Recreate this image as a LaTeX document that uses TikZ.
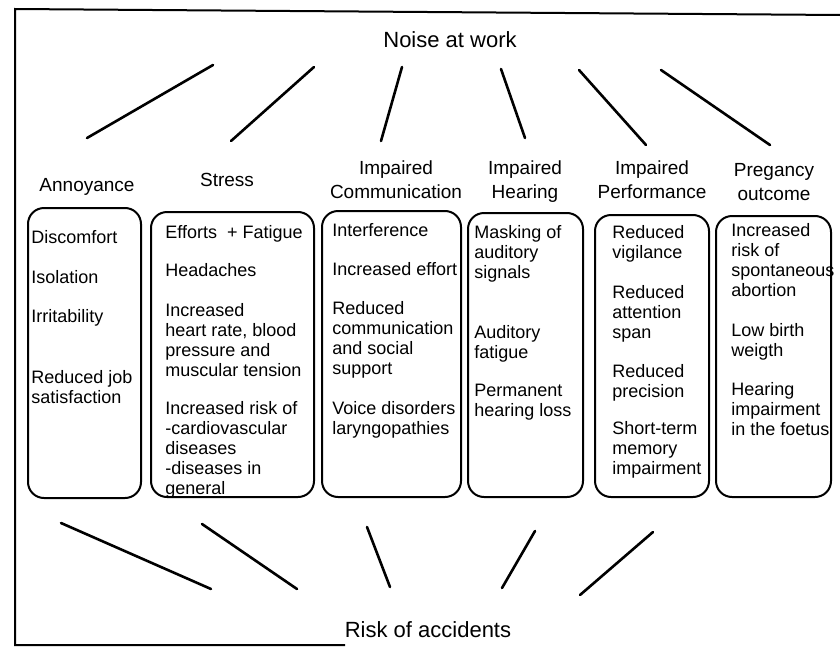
\documentclass[tikz,border=0pt]{standalone}
\usepackage{fontspec}
\setmainfont{Liberation Sans}
\tikzset{
  frame/.style={line width=1pt},
  stroke/.style={line width=1.3pt, line cap=round},
  box/.style={draw, line width=1pt, rounded corners=8pt, inner sep=0pt},
  item/.style={anchor=base west, inner sep=0pt, font=\fontsize{9}{10}\selectfont},
  head/.style={anchor=base, inner sep=0pt, font=\fontsize{9.5}{12}\selectfont},
  title/.style={anchor=base, inner sep=0pt, font=\fontsize{11}{13}\selectfont}
}
\newcommand{\leftlines}[1]{\begin{tabular}[t]{@{}l@{}}#1\end{tabular}}
\newcommand{\midlines}[1]{\begin{tabular}[t]{@{}c@{}}#1\end{tabular}}

\begin{document}
\begin{tikzpicture}[x=0.5pt,y=-0.5pt]
	\useasboundingbox (0,0) rectangle (840,648);

	\draw[frame] (840,15) -- (15,9) -- (15,645) -- (345,645);

	\node[title] (noise) at (450,47) {Noise at work};
	\node[title] (risk) at (428,637) {Risk of accidents};

	% headings
	\node[head] (annoy) at (87,191) {Annoyance};
	\node[head] (stress) at (227,186) {Stress};
	\node[head] (comm) at (396,174) {\midlines{Impaired\\Communication}};
	\node[head] (hear) at (525,174) {\midlines{Impaired\\Hearing}};
	\node[head] (perf) at (652,174) {\midlines{Impaired\\Performance}};
	\node[head] (preg) at (774,176) {\midlines{Pregancy\\outcome}};

	% boxes
	\node[box, minimum width=56.5pt, minimum height=145pt] (b1) at (84.5,353) {};
	\node[box, minimum width=81.5pt, minimum height=142.5pt] (b2) at (232.5,354.5) {};
	\node[box, minimum width=69.5pt, minimum height=143pt] (b3) at (391.5,354) {};
	\node[box, minimum width=57.5pt, minimum height=142pt] (b4) at (525.5,355) {};
	\node[box, minimum width=57pt, minimum height=141pt] (b5) at (652,356) {};
	\node[box, minimum width=57.5pt, minimum height=140.5pt] (b6) at (773.5,356.5) {};

	\node[item] (a1) at (31,243) {Discomfort};
	\node[item] (a2) at (31,283) {Isolation};
	\node[item] (a3) at (31,322) {Irritability};
	\node[item] (a4) at (31,383) {\leftlines{Reduced job\\satisfaction}};

	\node[item] (s1) at (165,238) {Efforts~~+ Fatigue};
	\node[item] (s2) at (165,276) {Headaches};
	\node[item] (s3) at (165,316) {\leftlines{Increased\\heart rate, blood\\pressure and\\muscular tension}};
	\node[item] (s4) at (165,414) {\leftlines{Increased risk of\\-cardiovascular\\diseases\\-diseases in\\general}};

	\node[item] (c1) at (332,236) {Interference};
	\node[item] (c2) at (332,275) {Increased effort};
	\node[item] (c3) at (332,314) {\leftlines{Reduced\\communication\\and social\\support}};
	\node[item] (c4) at (332,414) {\leftlines{Voice disorders\\laryngopathies}};

	\node[item] (e1) at (474,238) {\leftlines{Masking of\\auditory\\signals}};
	\node[item] (e2) at (474,338) {\leftlines{Auditory\\fatigue}};
	\node[item] (e3) at (474,396) {\leftlines{Permanent\\hearing loss}};

	\node[item] (p1) at (612,238) {\leftlines{Reduced\\vigilance}};
	\node[item] (p2) at (612,298) {\leftlines{Reduced\\attention\\span}};
	\node[item] (p3) at (612,377) {\leftlines{Reduced\\precision}};
	\node[item] (p4) at (612,434) {\leftlines{Short-term\\memory\\impairment}};

	\node[item] (g1) at (731,236) {\leftlines{Increased\\risk of\\spontaneous\\abortion}};
	\node[item] (g2) at (731,336) {\leftlines{Low birth\\weigth}};
	\node[item] (g3) at (731,395) {\leftlines{Hearing\\impairment\\in the foetus}};

	% strokes under the title
	\foreach \i/\xa/\ya/\xb/\yb in {1/213/65/87/138, 2/314/67/231/141, 3/402/67/381/141,
		4/501/69/525/138, 5/579/70/646/145, 6/661/70/770/145}{
		\coordinate (up\i) at (\xa,\ya);
		\coordinate (dn\i) at (\xb,\yb);
		\draw[stroke] (up\i) -- (dn\i);
	}

	% strokes above the bottom line
	\foreach \i/\xa/\ya/\xb/\yb in {1/61/523/211/589, 2/202/524/297/589, 3/367/527/390/587,
		4/535/531/502/588, 5/653/532/580/595}{
		\coordinate (hi\i) at (\xa,\ya);
		\coordinate (lo\i) at (\xb,\yb);
		\draw[stroke] (hi\i) -- (lo\i);
	}

\end{tikzpicture}
\end{document}
